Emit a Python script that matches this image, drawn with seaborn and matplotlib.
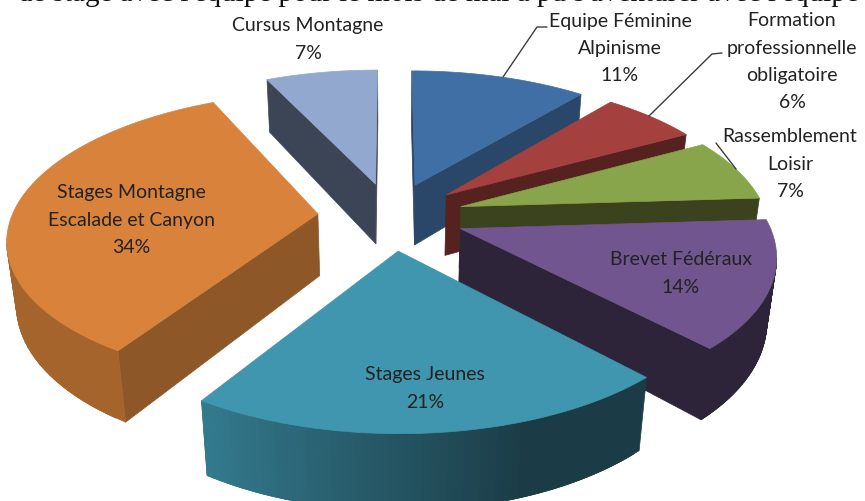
import numpy as np
import matplotlib
matplotlib.use("Agg")
import matplotlib.pyplot as plt
import matplotlib.colors as mc
from matplotlib.patches import Polygon
import seaborn as sns

# ---- data (clockwise from 12 o'clock)
categories = ["Equipe Féminine\nAlpinisme", "Formation\nprofessionnelle\nobligatoire",
              "Rassemblement\nLoisir", "Brevet Fédéraux", "Stages Jeunes",
              "Stages Montagne\nEscalade et Canyon", "Cursus Montagne"]
shares = [11, 6, 7, 14, 21, 34, 7]
top_colors = ["#3f6fa4", "#a4403d", "#88a54b", "#70558f", "#3f96ae", "#d8823b", "#92a8cf"]
cut_colors = ["#2a4669", "#552220", "#3a431e", "#2e2439", "#1b3c46", "#8d5728", "#3b4556"]
arc_light  = ["#2a4669", "#552220", "#3a431e", "#2e2439", "#347c90", "#b9722f", "#3b4556"]
arc_dark   = ["#2a4669", "#552220", "#3a431e", "#2e2439", "#1b3c46", "#a5642b", "#3b4556"]
label_xy = [(620, 21), (792, 21), (790, 137), (681, 260), (425, 375), (131, 193), (308, 26)]
page_line = "de stage avec l'équipe pour le mois de mai a pu s'aventurer avec l'équipe pé"

# ---- projection of the tilted pie onto the image
CX, CY, F, A, P, D, Q, EXPLODE = 391, 217, 306, 141.3, 0.158, 62, 0.025, 0.24

def project(X, Y, z=0.0):
    w = 1 + P * Y + Q * z
    return CX + F * X / w, CY + (-A * Y + D * z) / (1 + P * Y)

sns.set_theme(style="white")
plt.rcParams["font.family"] = ["Lato", "DejaVu Sans"]
fig = plt.figure(figsize=(8.65, 5.02), dpi=100)
ax = fig.add_axes([0, 0, 1, 1])
ax.set_xlim(0, 865)
ax.set_ylim(502, 0)
ax.axis("off")

edges = np.cumsum([0] + shares) / sum(shares) * 2 * np.pi
draw_order = [6, 0, 1, 2, 3, 5, 4]

for i in draw_order:
    t0, t1 = edges[i], edges[i + 1]
    mid = (t0 + t1) / 2
    ox, oy = EXPLODE * np.sin(mid), EXPLODE * np.cos(mid)
    ts = np.linspace(t0, t1, 60)
    wx = np.r_[ox, ox + np.sin(ts)]
    wy = np.r_[oy, oy + np.cos(ts)]
    n = len(wx)
    light, dark = mc.to_rgb(arc_light[i]), mc.to_rgb(arc_dark[i])
    z = draw_order.index(i) * 2 + 1
    for k in range(n):
        j = (k + 1) % n
        a = project(wx[k], wy[k]); b = project(wx[j], wy[j])
        c = project(wx[j], wy[j], 1); d = project(wx[k], wy[k], 1)
        if (b[0] - a[0]) + (c[0] - d[0]) >= 0:
            continue
        if 1 <= k < n - 1:
            f = np.clip(((ts[k - 1] - t0) / (t1 - t0) - 0.3) / 0.7, 0, 1)
            col = tuple(dark[m] + (light[m] - dark[m]) * f for m in range(3))
            # overlap the next strip so that no seams show between strips
            e = min(j + 1, n - 1)
            b = project(wx[e], wy[e]); c = project(wx[e], wy[e], 1)
        else:
            col = cut_colors[i]
        ax.add_patch(Polygon([a, b, c, d], closed=True, fc=col, ec=col, lw=0.5, zorder=z))
    sx, sy = project(wx, wy)
    ax.add_patch(Polygon(np.c_[sx, sy], closed=True, fc=top_colors[i], ec=top_colors[i], lw=0.5, zorder=z + 1))

# ---- leader lines
for xs, ys in [((547, 537, 503), (28, 28, 78)), ((722, 712, 649), (54, 55, 117)), ((716, 736), (144, 170))]:
    ax.plot(xs, ys, color="#3c3c3c", lw=1.0, zorder=30)

# ---- labels
LINE = 27.2
for name, share, (x, y) in zip(categories, shares, label_xy):
    for r, line in enumerate(name.split("\n") + [f"{share}%"]):
        ax.text(x, y + r * LINE, line, ha="center", va="center", fontsize=14,
                color="#222222", zorder=40)

ax.text(18, 1, page_line, family="Liberation Serif", fontsize=21, ha="left", va="baseline",
        color="#111111", zorder=40, clip_on=True)

fig.savefig("out.png", dpi=100)
